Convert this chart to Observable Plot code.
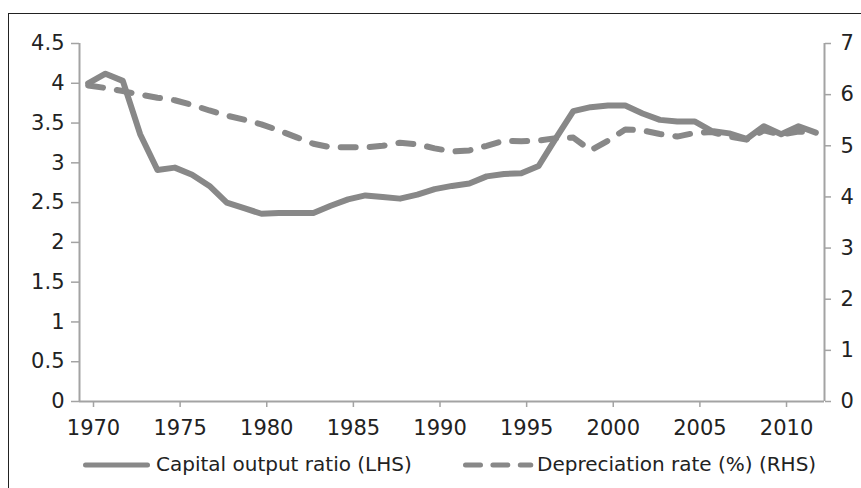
<!DOCTYPE html>
<html>
<head>
<meta charset="utf-8">
<script src="https://cdn.jsdelivr.net/npm/d3@7"></script>
<script src="https://cdn.jsdelivr.net/npm/@observablehq/plot@0.6"></script>
<style>
  html, body { margin: 0; padding: 0; background: #fff; overflow: hidden; }
  #wrap { width: 861px; height: 488px; overflow: hidden; position: relative; font-family: "DejaVu Sans", sans-serif; }
  #frame { position: absolute; left: 8px; top: 13px; width: 853px; height: 475px; border-left: 1.5px solid #222; border-top: 1.5px solid #222; box-sizing: border-box; }
  #chart { position: absolute; left: 0; top: 0; }
  .leg { position: absolute; font-size: 20px; line-height: 20px; color: #222; white-space: nowrap; letter-spacing: 0; }
  .sw { position: absolute; }
</style>
</head>
<body>
<div id="wrap">
<div id="frame"></div>
<div id="chart"></div>
<svg class="sw" style="left:78px;top:458px" width="78" height="14"><line x1="7.5" y1="7" x2="69.5" y2="7" stroke="#888" stroke-width="5" stroke-linecap="round"/></svg>
<div class="leg" style="left:156px;top:454px">Capital output ratio (LHS)</div>
<svg class="sw" style="left:458px;top:458px" width="80" height="14"><line x1="7.5" y1="7" x2="72.8" y2="7" stroke="#888" stroke-width="5" stroke-linecap="round" stroke-dasharray="15,12.4"/></svg>
<div class="leg" style="left:537px;top:454px">Depreciation rate (%) (RHS)</div>
</div>
<script>
const years = d3.range(1970, 2013);
const capitalOutput = [4.00, 4.12, 4.03, 3.36, 2.91, 2.94, 2.85, 2.71, 2.50, 2.43, 2.36,
  2.37, 2.37, 2.37, 2.46, 2.54, 2.59, 2.57, 2.55, 2.60, 2.67,
  2.71, 2.74, 2.83, 2.86, 2.87, 2.96, 3.31, 3.65, 3.70, 3.72,
  3.72, 3.62, 3.54, 3.52, 3.52, 3.40, 3.37, 3.30, 3.46, 3.36, 3.46, 3.38];
const depreciation = [6.18, 6.13, 6.07, 6.00, 5.94, 5.89, 5.80, 5.69, 5.59, 5.51, 5.42,
  5.30, 5.17, 5.04, 4.97, 4.97, 4.97, 5.00, 5.06, 5.03, 4.95,
  4.89, 4.91, 5.00, 5.10, 5.09, 5.10, 5.15, 5.16, 4.91, 5.10,
  5.32, 5.30, 5.23, 5.18, 5.25, 5.27, 5.18, 5.12, 5.30, 5.22, 5.28, 5.25];
const xTicks = [1970, 1975, 1980, 1985, 1990, 1995, 2000, 2005, 2010];
const leftTicks = [0, 0.5, 1, 1.5, 2, 2.5, 3, 3.5, 4, 4.5];
const rightTicks = [0, 1, 2, 3, 4, 5, 6, 7];
const leftMax = 4.5, rightMax = 7;

const data = years.map((year, i) => ({year, cap: capitalOutput[i], dep: depreciation[i]}));
const toLeft = v => v * leftMax / rightMax;
const axisColor = "#a3a3a3";
const lineColor = "#888";
const tickFont = {fontSize: 21, fontFamily: "DejaVu Sans", fill: "#222", stroke: axisColor, strokeWidth: 1.5, label: null};

const chart = Plot.plot({
  width: 861,
  height: 445,
  marginLeft: 79,
  marginRight: 37,
  marginTop: 43,
  marginBottom: 44,
  style: {fontFamily: "DejaVu Sans, sans-serif", fontSize: "21px", color: "#222", background: "transparent", overflow: "visible"},
  x: {domain: [1970, 2013]},
  y: {domain: [0, leftMax]},
  marks: [
    Plot.ruleY([0], {stroke: axisColor, strokeWidth: 2}),
    Plot.ruleX([1970, 2013], {stroke: axisColor, strokeWidth: 2}),
    Plot.axisX({...tickFont, ticks: xTicks, tickFormat: d => String(d), tickSize: 6, tickPadding: 13, dx: 14}),
    Plot.axisY({...tickFont, ticks: leftTicks, tickFormat: d => String(d), anchor: "left", tickSize: 8, tickPadding: 7}),
    Plot.axisY({...tickFont, ticks: rightTicks.map(toLeft), tickFormat: d => String(Math.round(d * rightMax / leftMax)), anchor: "right", tickSize: 6, tickPadding: 10}),
    Plot.line(data, {x: d => d.year + 0.5, y: d => toLeft(d.dep), stroke: lineColor, strokeWidth: 6, strokeLinecap: "round", strokeLinejoin: "round", strokeDasharray: "15,14"}),
    Plot.line(data, {x: d => d.year + 0.5, y: "cap", stroke: lineColor, strokeWidth: 6, strokeLinejoin: "round"})
  ]
});
document.getElementById("chart").appendChild(chart);
</script>
</body>
</html>
